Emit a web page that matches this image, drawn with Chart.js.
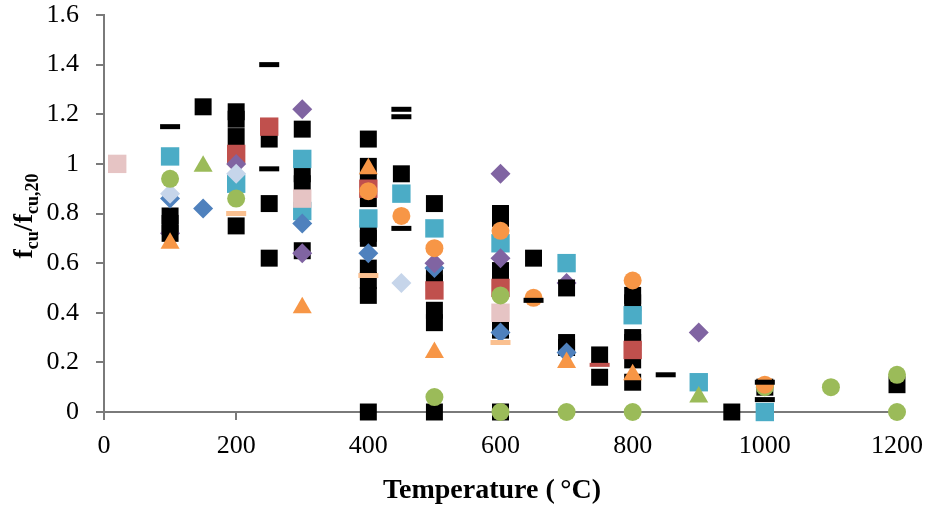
<!DOCTYPE html>
<html>
<head>
<meta charset="utf-8">
<script src="https://cdn.jsdelivr.net/npm/chart.js@4.4.1/dist/chart.umd.min.js"></script>
<style>
  html, body { margin: 0; padding: 0; background: #fff; }
  canvas { display: block; }
</style>
</head>
<body>
<canvas id="chart" width="928" height="513"></canvas>
<script>
// axis ticks
const xTicks = [0, 200, 400, 600, 800, 1000, 1200];
const xTickLabels = ['0', '200', '400', '600', '800', '1000', '1200'];
const yTicks = [0, 0.2, 0.4, 0.6, 0.8, 1.0, 1.2, 1.4, 1.6];
const yTickLabels = ['0', '0.2', '0.4', '0.6', '0.8', '1', '1.2', '1.4', '1.6'];

// series, each point = [temperature (C), fcu/fcu,20]
const blackSquares = [
  [100, 0.79], [100, 0.76], [100, 0.72], [150, 1.23],
  [200, 1.21], [200, 1.18], [200, 1.11], [200, 0.75],
  [250, 1.10], [250, 0.84], [250, 0.62],
  [300, 1.14], [300, 0.96], [300, 0.92], [300, 0.65],
  [400, 1.10], [400, 0.99], [400, 0.93], [400, 0.86], [400, 0.72], [400, 0.70],
  [400, 0.58], [400, 0.53], [400, 0.47], [400, 0],
  [450, 0.96],
  [500, 0.84], [500, 0.55], [500, 0.52], [500, 0.41], [500, 0.36], [500, 0],
  [600, 0.80], [600, 0.78], [600, 0.57], [600, 0.53], [600, 0.50], [600, 0.33], [600, 0],
  [650, 0.62],
  [700, 0.50], [700, 0.28], [700, 0.26],
  [750, 0.23], [750, 0.14],
  [800, 0.47], [800, 0.44], [800, 0.30], [800, 0.28], [800, 0.21], [800, 0.12],
  [950, 0], [1000, 0.10], [1200, 0.11]
];
const blackDashes = [
  [100, 1.15], [250, 1.40], [250, 0.98], [450, 1.22], [450, 1.19], [450, 0.74],
  [650, 0.45], [850, 0.15], [1000, 0.12], [1000, 0.05]
];
const redDashes = [[750, 0.19]];
const peachDashes = [[200, 0.80], [400, 0.55], [600, 0.28]];
const pinkSquares = [[20, 1.0], [300, 0.86], [600, 0.40]];
const redSquares = [[200, 1.04], [250, 1.15], [400, 0.90], [500, 0.49], [600, 0.50], [800, 0.25]];
const cyanSquares = [
  [100, 1.03], [200, 0.92], [300, 1.02], [300, 0.81], [400, 0.78], [450, 0.88],
  [500, 0.74], [600, 0.68], [700, 0.60], [800, 0.39], [900, 0.12], [1000, 0]
];
const blueDiamonds = [[100, 0.86], [150, 0.82], [300, 0.76], [400, 0.64], [500, 0.58], [600, 0.32], [700, 0.24]];
const purpleDiamonds = [[200, 1.00], [300, 1.22], [300, 0.64], [500, 0.60], [600, 0.96], [600, 0.62], [900, 0.32]];
// purple points that sit behind the black squares
const purpleDiamondsBehind = [[100, 0.72], [700, 0.52]];
const lightBlueDiamonds = [[100, 0.88], [200, 0.96], [450, 0.52]];
const orangeCircles = [[400, 0.89], [450, 0.79], [500, 0.66], [600, 0.73], [650, 0.46], [800, 0.53], [1000, 0.11]];
const greenCircles = [
  [100, 0.94], [200, 0.86], [500, 0.06], [600, 0.47], [600, 0], [700, 0], [800, 0],
  [1000, 0.10], [1100, 0.10], [1200, 0.15], [1200, 0]
];
const orangeTriangles = [[100, 0.68], [300, 0.42], [400, 0.98], [500, 0.24], [700, 0.20], [800, 0.15]];
const greenTriangles = [[150, 0.99], [900, 0.06]];

function series(points, style, color, radius, lineW) {
  return {
    data: points.map(p => ({ x: p[0], y: p[1] })),
    showLine: false,
    clip: false,
    pointStyle: style,
    pointRadius: radius,
    pointHoverRadius: radius,
    pointBackgroundColor: color,
    pointBorderColor: color,
    pointBorderWidth: lineW || 0,
    pointHoverBorderWidth: lineW || 0
  };
}

// first dataset is drawn on top
const datasets = [
  series(blackDashes, 'line', '#000000', 10, 5),
  series(redDashes, 'line', '#c0504d', 10, 4),
  series(peachDashes, 'line', '#fac090', 10, 5),
  series(orangeCircles, 'circle', '#f79646', 9),
  series(greenCircles, 'circle', '#9bbb59', 9),
  series(greenTriangles, 'triangle', '#9bbb59', 11),
  series(orangeTriangles, 'triangle', '#f79646', 11),
  series(lightBlueDiamonds, 'rectRot', '#c6d5ea', 10),
  series(purpleDiamonds, 'rectRot', '#8064a2', 10),
  series(blueDiamonds, 'rectRot', '#4f81bd', 10),
  series(pinkSquares, 'rect', '#e6c4c4', 13),
  series(redSquares, 'rect', '#c0504d', 13),
  series(cyanSquares, 'rect', '#4bacc6', 13),
  series(blackSquares, 'rect', '#000000', 12),
  series(purpleDiamondsBehind, 'rectRot', '#8064a2', 10)
];

const FONT = '"Liberation Serif", "Times New Roman", serif';
const AXIS = '#7a7a7a';

const axisTitles = {
  id: 'axisTitles',
  afterDraw(chart) {
    const ctx = chart.ctx;
    ctx.save();
    ctx.fillStyle = '#000';
    ctx.textBaseline = 'alphabetic';
    ctx.textAlign = 'center';
    ctx.font = 'bold 28px ' + FONT;
    ctx.fillText('Temperature (\u2009\u00B0C)', 492, 498);

    // y title with subscripts
    const parts = [
      ['f', false], ['cu', true], ['/f', false], ['cu,20', true]
    ];
    const big = 'bold 28px ' + FONT, small = 'bold 18px ' + FONT;
    let total = 0;
    parts.forEach(p => { ctx.font = p[1] ? small : big; total += ctx.measureText(p[0]).width; });
    ctx.translate(32, 216);
    ctx.rotate(-Math.PI / 2);
    ctx.textAlign = 'left';
    let u = -total / 2;
    parts.forEach(p => {
      ctx.font = p[1] ? small : big;
      ctx.fillText(p[0], u, p[1] ? 6 : 0);
      u += ctx.measureText(p[0]).width;
    });
    ctx.restore();
  }
};

Chart.defaults.font.family = FONT;
Chart.defaults.color = '#000';

new Chart(document.getElementById('chart'), {
  type: 'scatter',
  data: { datasets },
  options: {
    responsive: false,
    maintainAspectRatio: false,
    animation: false,
    layout: { padding: { top: 13, right: 31, left: 0, bottom: 0 } },
    plugins: { legend: { display: false }, tooltip: { enabled: false } },
    scales: {
      x: {
        type: 'linear', min: 0, max: 1200,
        afterBuildTicks: s => { s.ticks = xTicks.map(v => ({ value: v })); },
        afterFit: s => { s.height = 101; s.paddingLeft = 0; s.paddingRight = 0; },
        ticks: { font: { size: 26 }, padding: 11, callback: (v, i) => xTickLabels[i] },
        grid: { drawOnChartArea: false, drawTicks: true, tickLength: 8, color: AXIS, lineWidth: 2 },
        border: { color: AXIS, width: 2 }
      },
      y: {
        type: 'linear', min: 0, max: 1.6,
        afterBuildTicks: s => { s.ticks = yTicks.map(v => ({ value: v })); },
        afterFit: s => { s.width = 104; s.paddingTop = 0; s.paddingBottom = 0; },
        ticks: { font: { size: 26 }, padding: 17, callback: (v, i) => yTickLabels[i] },
        grid: { drawOnChartArea: false, drawTicks: true, tickLength: 8, color: AXIS, lineWidth: 2 },
        border: { color: AXIS, width: 2 }
      }
    }
  },
  plugins: [axisTitles]
});
</script>
</body>
</html>
